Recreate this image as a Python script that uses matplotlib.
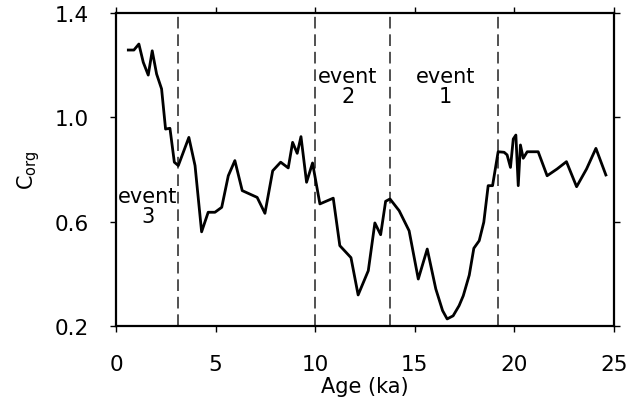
import matplotlib
matplotlib.use("Agg")
import matplotlib.pyplot as plt

age = [0.62, 0.90, 1.15, 1.37, 1.62, 1.82, 2.04, 2.29, 2.49, 2.71, 2.93,
       3.13, 3.66, 3.97, 4.30, 4.63, 4.97, 5.31, 5.64, 5.97, 6.34, 7.09,
       7.48, 7.87, 8.27, 8.65, 8.87, 9.10, 9.29, 9.57, 9.87, 10.24, 10.91,
       11.24, 11.80, 12.16, 12.67, 13.00, 13.29, 13.54, 13.76, 14.22, 14.72,
       15.18, 15.63, 16.06, 16.40, 16.63, 16.93, 17.23, 17.44, 17.74, 17.97,
       18.24, 18.47, 18.69, 18.91, 19.19, 19.49, 19.64, 19.81, 19.95, 20.08,
       20.20, 20.31, 20.45, 20.65, 21.20, 21.65, 22.15, 22.62, 23.13, 23.63,
       24.10, 24.60]

corg = [1.258, 1.258, 1.281, 1.211, 1.162, 1.255, 1.166, 1.109, 0.955, 0.958,
        0.828, 0.815, 0.923, 0.815, 0.561, 0.636, 0.636, 0.655, 0.776, 0.834,
        0.719, 0.693, 0.632, 0.795, 0.828, 0.806, 0.904, 0.862, 0.926, 0.751,
        0.825, 0.668, 0.690, 0.508, 0.462, 0.319, 0.412, 0.595, 0.550, 0.678,
        0.687, 0.642, 0.565, 0.380, 0.495, 0.342, 0.259, 0.227, 0.239, 0.278,
        0.316, 0.395, 0.498, 0.527, 0.598, 0.738, 0.738, 0.868, 0.866, 0.856,
        0.808, 0.917, 0.932, 0.738, 0.894, 0.843, 0.868, 0.868, 0.776, 0.802,
        0.830, 0.734, 0.802, 0.881, 0.779]

boundaries = [3.13, 10.0, 13.76, 19.19]

event_labels = ["event\n3", "event\n2", "event\n1"]
event_x = [1.6, 11.65, 16.55]
event_y = [0.66, 1.12, 1.12]

xticks = [0, 5, 10, 15, 20, 25]
yticks = [0.2, 0.6, 1.0, 1.4]


def main():
    plt.rcParams["font.family"] = ["DejaVu Sans"]
    fig = plt.figure(figsize=(6.31, 4.02), dpi=100)
    ax = fig.add_axes([0.1838, 0.1866, 0.789, 0.7786])

    ax.plot(age, corg, color="black", lw=2.0, zorder=3)
    for b in boundaries:
        ax.axvline(b, color="#333333", lw=1.2, dashes=(7, 3.5), zorder=2)

    for lab, x, y in zip(event_labels, event_x, event_y):
        ax.text(x, y, lab, ha="center", va="center", fontsize=15,
                linespacing=0.95)

    ax.set_xlim(0, 25)
    ax.set_ylim(0.2, 1.4)
    ax.set_xticks(xticks)
    ax.set_yticks(yticks)
    ax.set_yticklabels(["%.1f" % v for v in yticks])
    ax.tick_params(direction="out", length=4.5, width=1.0, labelsize=15.5,
                   top=True, right=True)
    ax.tick_params(axis="x", pad=16)
    ax.tick_params(axis="y", pad=15)
    for s in ax.spines.values():
        s.set_linewidth(1.6)

    ax.set_xlabel("Age (ka)", fontsize=15, labelpad=1)
    ax.set_ylabel(r"C$_{\mathregular{org}}$", fontsize=15, labelpad=9)

    fig.savefig("out.png", dpi=100)


if __name__ == "__main__":
    main()
